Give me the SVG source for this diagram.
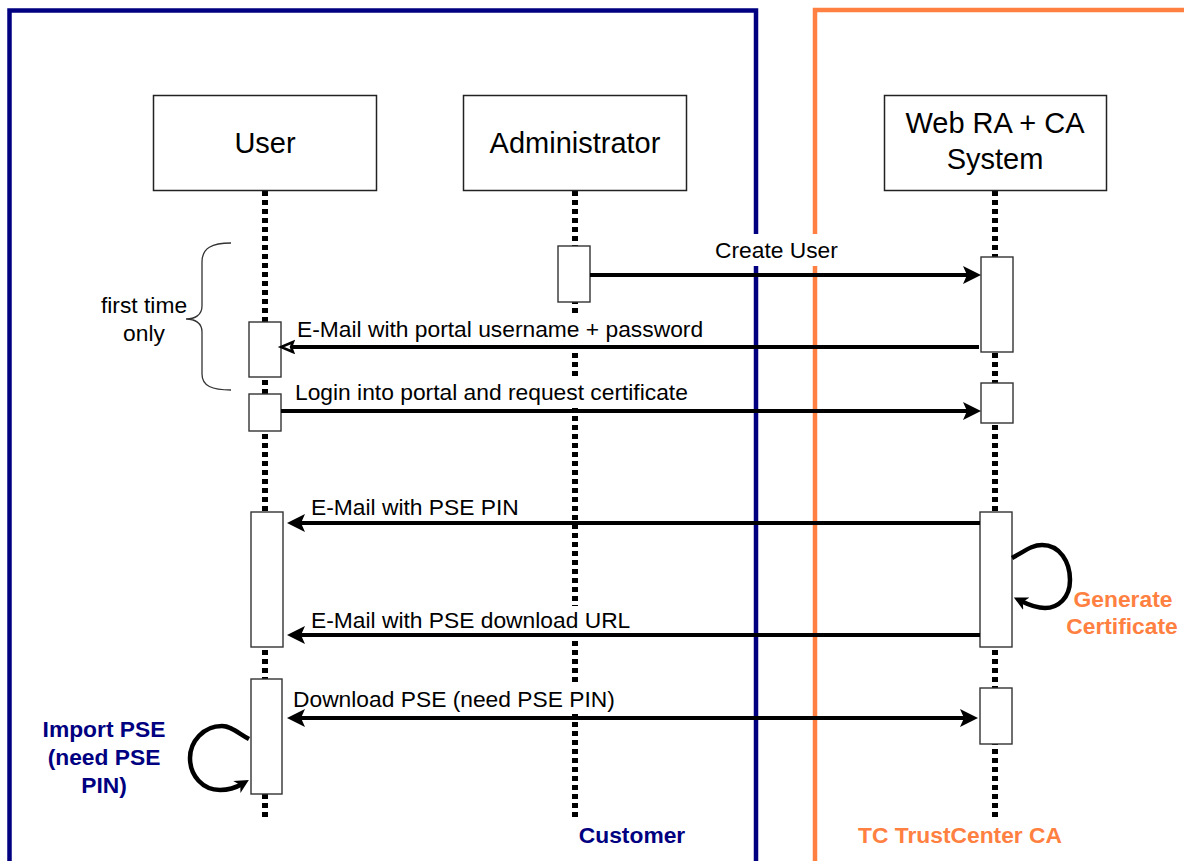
<svg xmlns="http://www.w3.org/2000/svg" width="1184" height="861" viewBox="0 0 1184 861">
<style>
  text { font-family: "Liberation Sans", Arial, sans-serif; }
  .title { font-size: 29px; fill: #000; text-anchor: middle; }
  .msg { font-size: 22.8px; fill: #000; }
  .note { font-size: 22.8px; fill: #000; text-anchor: middle; }
  .bold { font-size: 22.8px; font-weight: bold; text-anchor: middle; }
  .navy { fill: #000080; }
  .orange { fill: #FF8040; }
  .box { fill: #fff; stroke: #222; stroke-width: 1.5; }
  .act { fill: #fff; stroke: #333; stroke-width: 1.4; }
  .life { stroke: #000; stroke-width: 6; stroke-dasharray: 5 4; fill: none; }
  .arrow { stroke: #000; stroke-width: 4; fill: none; }
  .loop { stroke: #000; stroke-width: 4.5; fill: none; }
  .lblbg { fill: #fff; }
</style>
<defs>
  <marker id="head" markerUnits="userSpaceOnUse" markerWidth="20" markerHeight="20" viewBox="0 0 20 20" refX="8" refY="9" orient="auto-start-reverse">
    <path d="M0,0 L18,9 L0,18 L4,9 Z" fill="#000"/>
  </marker>
  <marker id="headOpen" markerUnits="userSpaceOnUse" markerWidth="20" markerHeight="16" viewBox="0 0 20 16" refX="6" refY="7" orient="auto">
    <path d="M2,2 L14,7 L2,12 L4,7 Z" fill="#fff" stroke="#000" stroke-width="2.5" stroke-linejoin="miter"/>
  </marker>
  <marker id="loopHead" markerUnits="userSpaceOnUse" markerWidth="16" markerHeight="16" viewBox="0 0 16 16" refX="6" refY="8" orient="auto">
    <path d="M0,1 L14,8 L0,15 L4,8 Z" fill="#000"/>
  </marker>
</defs>

<g id="frames">
  <path id="frame-customer" d="M9.5,861 L9.5,10.5 L756,10.5 L756,861" fill="none" stroke="#000080" stroke-width="4.5"/>
  <path id="frame-trustcenter" d="M815,861 L815,10 L1184,10" fill="none" stroke="#FF8040" stroke-width="4.5"/>
</g>

<g id="lifelines">
  <line class="life" x1="265" y1="191" x2="265" y2="819"/>
  <line class="life" x1="575" y1="191" x2="575" y2="819"/>
  <line class="life" x1="995" y1="191" x2="995" y2="819"/>
</g>

<g id="node-user">
  <rect class="box" x="153.5" y="95.5" width="223" height="95"/>
  <text class="title" x="265" y="153">User</text>
</g>
<g id="node-admin">
  <rect class="box" x="463.5" y="95.5" width="223" height="95"/>
  <text class="title" x="575" y="153">Administrator</text>
</g>
<g id="node-webra">
  <rect class="box" x="884.5" y="95.5" width="222" height="95"/>
  <text class="title" x="995" y="133">Web RA + CA</text>
  <text class="title" x="995" y="169">System</text>
</g>

<g id="activations">
  <rect class="act" x="558" y="246" width="32" height="56"/>
  <rect class="act" x="981" y="257" width="32" height="95"/>
  <rect class="act" x="249" y="322" width="32" height="55"/>
  <rect class="act" x="249" y="394" width="32" height="37"/>
  <rect class="act" x="981" y="383" width="32" height="40"/>
  <rect class="act" x="251" y="512" width="32" height="135"/>
  <rect class="act" x="980" y="512" width="32" height="135"/>
  <rect class="act" x="251" y="679" width="31" height="115"/>
  <rect class="act" x="980" y="688" width="32" height="56"/>
</g>

<g id="brace">
  <path d="M231,243 C212,243 202,248 202,262 L202,306 C202,315 195,319 186,319 C195,319 202,323 202,332 L202,374 C202,386 212,390 231,390" fill="none" stroke="#333" stroke-width="1.3"/>
  <text class="note" x="144" y="313">first time</text>
  <text class="note" x="144" y="341">only</text>
</g>

<g id="connectors">
  <g id="msg-create-user">
    <rect class="lblbg" x="706" y="234" width="141" height="32"/>
    <text class="msg" x="715" y="258">Create User</text>
    <line class="arrow" x1="590" y1="275" x2="971" y2="275" marker-end="url(#head)"/>
  </g>
  <g id="msg-email-portal">
    <rect class="lblbg" x="293" y="314" width="416" height="31"/>
    <text class="msg" x="297" y="337">E-Mail with portal username + password</text>
    <line class="arrow" x1="979" y1="347" x2="289" y2="347" marker-end="url(#headOpen)"/>
  </g>
  <g id="msg-login">
    <rect class="lblbg" x="291" y="378" width="405" height="30"/>
    <text class="msg" x="295" y="400">Login into portal and request certificate</text>
    <line class="arrow" x1="281" y1="411" x2="971" y2="411" marker-end="url(#head)"/>
  </g>
  <g id="msg-pse-pin">
    <rect class="lblbg" x="307" y="494" width="215" height="27"/>
    <text class="msg" x="311" y="515">E-Mail with PSE PIN</text>
    <line class="arrow" x1="980" y1="523" x2="297" y2="523" marker-end="url(#head)"/>
  </g>
  <g id="msg-pse-url">
    <rect class="lblbg" x="307" y="606" width="327" height="27"/>
    <text class="msg" x="311" y="628">E-Mail with PSE download URL</text>
    <line class="arrow" x1="980" y1="635" x2="297" y2="635" marker-end="url(#head)"/>
  </g>
  <g id="msg-download">
    <rect class="lblbg" x="289" y="686" width="330" height="28"/>
    <text class="msg" x="293" y="707">Download PSE (need PSE PIN)</text>
    <line class="arrow" x1="297" y1="718" x2="968" y2="718" marker-start="url(#head)" marker-end="url(#head)"/>
  </g>
  <g id="loop-generate">
    <path class="loop" d="M1012,558 C1025,551 1032,545 1042,545 C1060,545 1070,562 1070,580 C1070,598 1058,608 1045,608 C1036,608 1029,605 1021,601" marker-end="url(#loopHead)"/>
  </g>
  <g id="loop-import">
    <path class="loop" d="M249,739 C238,733 231,726 222,726 C203,726 190,742 190,758 C190,776 203,790 220,790 C230,790 237,787 242,784" marker-end="url(#loopHead)"/>
  </g>
</g>

<g id="labels">
  <text class="bold orange" x="1123" y="607">Generate</text>
  <text class="bold orange" x="1122" y="634">Certificate</text>
  <text class="bold navy" x="104" y="737">Import PSE</text>
  <text class="bold navy" x="104" y="765">(need PSE</text>
  <text class="bold navy" x="104" y="793">PIN)</text>
  <text class="bold navy" x="632" y="843">Customer</text>
  <text class="bold orange" x="960" y="843">TC TrustCenter CA</text>
</g>
</svg>
